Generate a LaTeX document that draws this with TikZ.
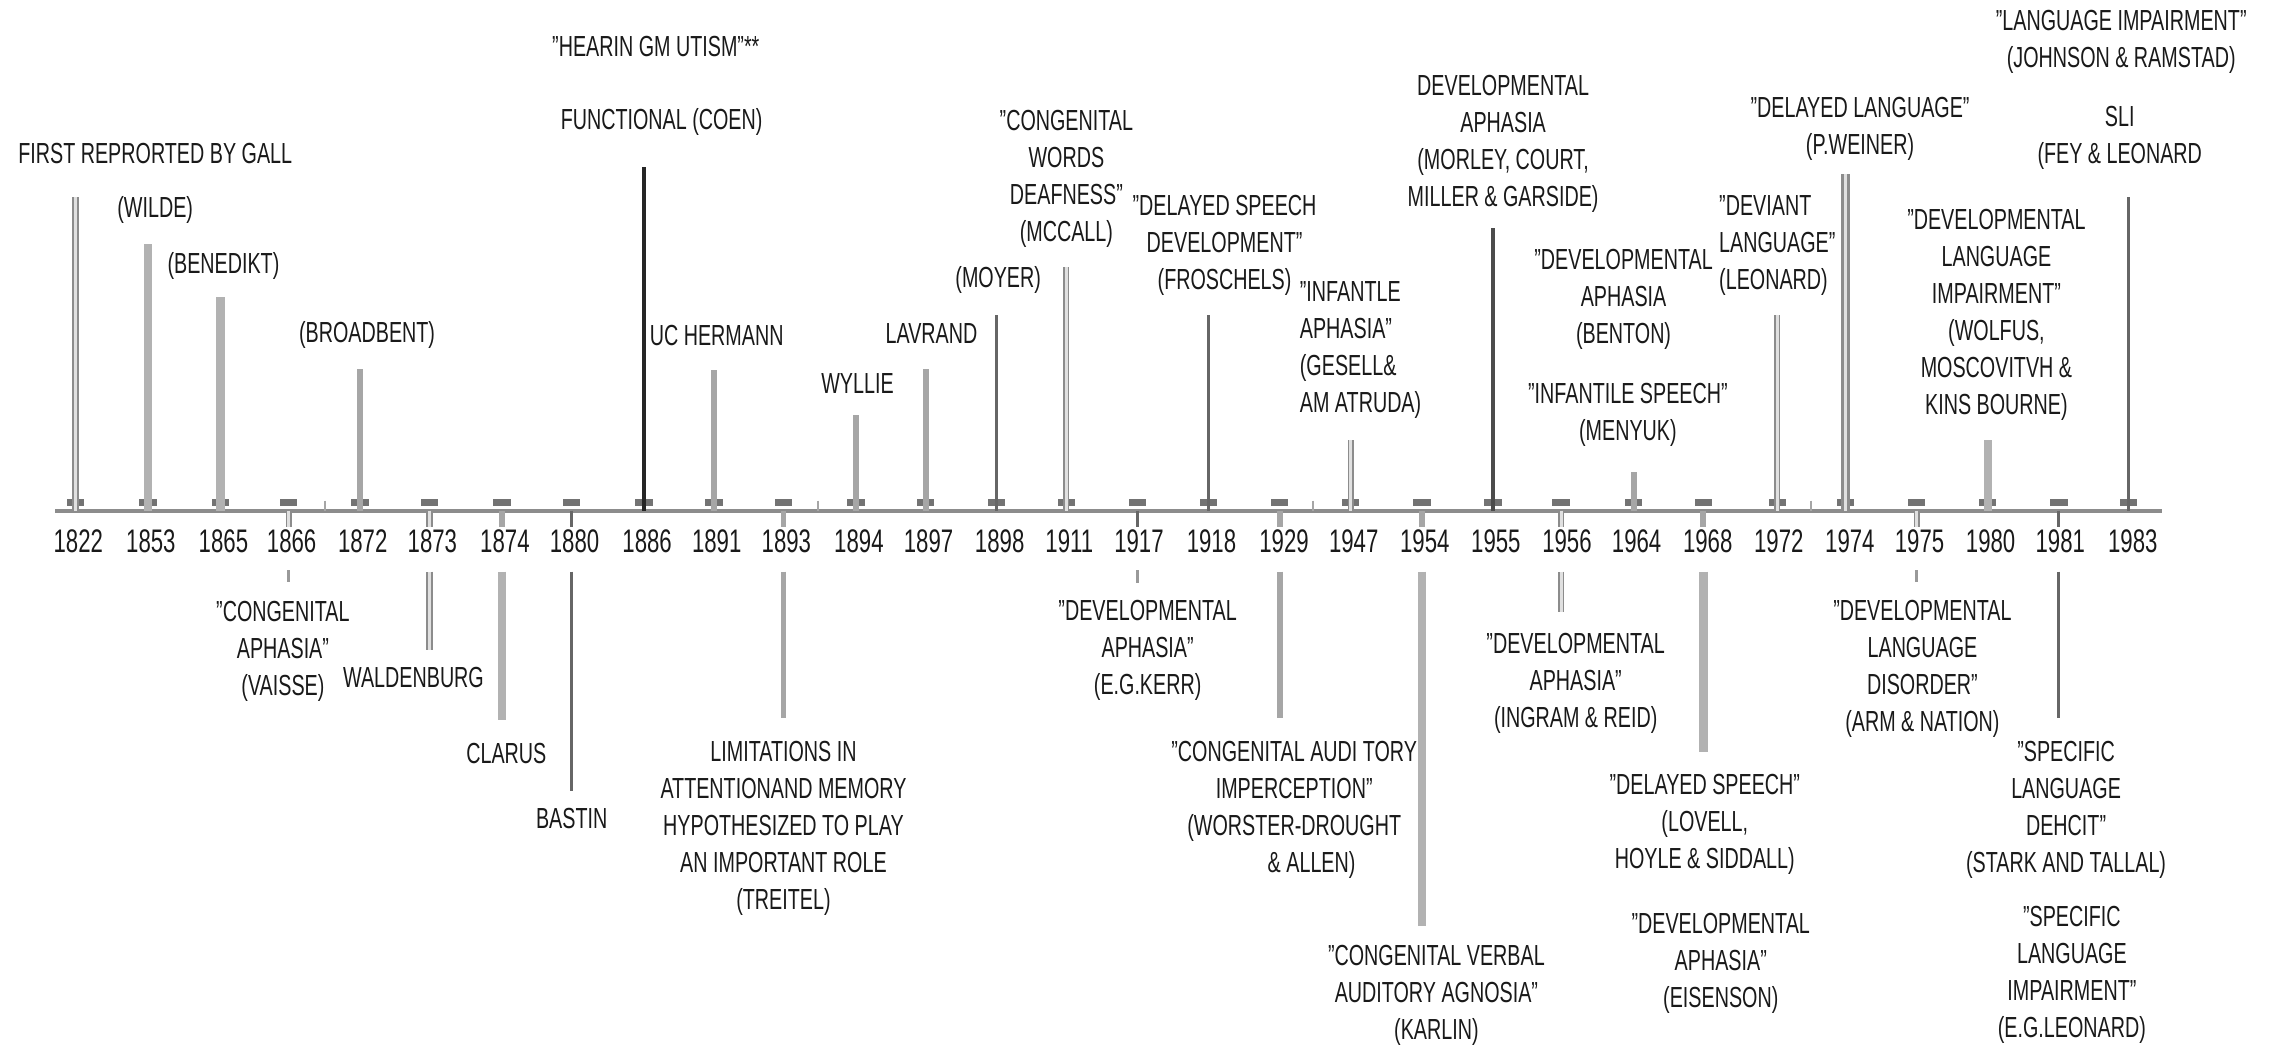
\documentclass[tikz,border=0pt]{standalone}
\usepackage{fontspec}
\setmainfont{Liberation Sans}[FakeStretch=0.68]
\tikzset{every picture/.style={line width=0.75pt}}
\tikzset{
  lbl/.style={font=\fontsize{8}{10.2}\selectfont, align=center, text=black!90, inner sep=0pt},
  yr/.style={font=\fontsize{9}{10}\selectfont, text=black!90, inner sep=0pt},
  stem/.style={draw=black!35, line width=1.6pt},
  widestem/.style={draw=black!30, line width=2.3pt},
  thinstem/.style={draw=black!60, line width=0.8pt},
  darkstem/.style={draw=black!85, line width=1pt},
  dblstem/.style={draw=black!45, double=black!12, double distance=0.8pt, line width=0.45pt},
  axisline/.style={draw=black!45, line width=1.1pt},
  tickbar/.style={fill=black!55},
}
\begin{document}
\begin{tikzpicture}[x=0.4pt,y=0.4pt,yscale=-1,xscale=1]
\useasboundingbox (0,0) rectangle (1568,722);

%Axis
\coordinate (axl) at (38,352);
\coordinate (axr) at (1490,352);
\draw [axisline] (axl) -- (axr);
\draw [black!35, line width=0.5pt] (224,345) -- (224,352);
\draw [black!35, line width=0.5pt] (564,345) -- (564,352);
\draw [black!35, line width=0.5pt] (905,345) -- (905,352);
\draw [black!35, line width=0.5pt] (1248,345) -- (1248,352);

%Points on the axis
\coordinate (a1822) at (52,352);
\coordinate (a1853) at (102,352);
\coordinate (a1865) at (152,352);
\coordinate (a1866) at (199,352);
\coordinate (a1872) at (248,352);
\coordinate (a1873) at (296,352);
\coordinate (a1874) at (346,352);
\coordinate (a1880) at (394,352);
\coordinate (a1886) at (444,352);
\coordinate (a1891) at (492,352);
\coordinate (a1893) at (540,352);
\coordinate (a1894) at (590,352);
\coordinate (a1897) at (638,352);
\coordinate (a1898) at (687,352);
\coordinate (a1911) at (735,352);
\coordinate (a1917) at (784,352);
\coordinate (a1918) at (833,352);
\coordinate (a1929) at (882,352);
\coordinate (a1947) at (931,352);
\coordinate (a1954) at (980,352);
\coordinate (a1955) at (1029,352);
\coordinate (a1956) at (1076,352);
\coordinate (a1964) at (1126,352);
\coordinate (a1968) at (1174,352);
\coordinate (a1972) at (1225,352);
\coordinate (a1974) at (1272,352);
\coordinate (a1975) at (1321,352);
\coordinate (a1980) at (1370,352);
\coordinate (a1981) at (1419,352);
\coordinate (a1983) at (1467,352);

%Tick marks
\fill [tickbar] (a1822) ++(-6,-8) rectangle ++(12,5);
\fill [tickbar] (a1853) ++(-6,-8) rectangle ++(12,5);
\fill [tickbar] (a1865) ++(-6,-8) rectangle ++(12,5);
\fill [tickbar] (a1866) ++(-6,-8) rectangle ++(12,5);
\fill [tickbar] (a1872) ++(-6,-8) rectangle ++(12,5);
\fill [tickbar] (a1873) ++(-6,-8) rectangle ++(12,5);
\fill [tickbar] (a1874) ++(-6,-8) rectangle ++(12,5);
\fill [tickbar] (a1880) ++(-6,-8) rectangle ++(12,5);
\fill [tickbar] (a1886) ++(-6,-8) rectangle ++(12,5);
\fill [tickbar] (a1891) ++(-6,-8) rectangle ++(12,5);
\fill [tickbar] (a1893) ++(-6,-8) rectangle ++(12,5);
\fill [tickbar] (a1894) ++(-6,-8) rectangle ++(12,5);
\fill [tickbar] (a1897) ++(-6,-8) rectangle ++(12,5);
\fill [tickbar] (a1898) ++(-6,-8) rectangle ++(12,5);
\fill [tickbar] (a1911) ++(-6,-8) rectangle ++(12,5);
\fill [tickbar] (a1917) ++(-6,-8) rectangle ++(12,5);
\fill [tickbar] (a1918) ++(-6,-8) rectangle ++(12,5);
\fill [tickbar] (a1929) ++(-6,-8) rectangle ++(12,5);
\fill [tickbar] (a1947) ++(-6,-8) rectangle ++(12,5);
\fill [tickbar] (a1954) ++(-6,-8) rectangle ++(12,5);
\fill [tickbar] (a1955) ++(-6,-8) rectangle ++(12,5);
\fill [tickbar] (a1956) ++(-6,-8) rectangle ++(12,5);
\fill [tickbar] (a1964) ++(-6,-8) rectangle ++(12,5);
\fill [tickbar] (a1968) ++(-6,-8) rectangle ++(12,5);
\fill [tickbar] (a1972) ++(-6,-8) rectangle ++(12,5);
\fill [tickbar] (a1974) ++(-6,-8) rectangle ++(12,5);
\fill [tickbar] (a1975) ++(-6,-8) rectangle ++(12,5);
\fill [tickbar] (a1980) ++(-6,-8) rectangle ++(12,5);
\fill [tickbar] (a1981) ++(-6,-8) rectangle ++(12,5);
\fill [tickbar] (a1983) ++(-6,-8) rectangle ++(12,5);

% Years
\draw (54,373) node (y1822) [yr] {1822};
\draw (104,373) node (y1853) [yr] {1853};
\draw (154,373) node (y1865) [yr] {1865};
\draw (201,373) node (y1866) [yr] {1866};
\draw (250,373) node (y1872) [yr] {1872};
\draw (298,373) node (y1873) [yr] {1873};
\draw (348,373) node (y1874) [yr] {1874};
\draw (396,373) node (y1880) [yr] {1880};
\draw (446,373) node (y1886) [yr] {1886};
\draw (494,373) node (y1891) [yr] {1891};
\draw (542,373) node (y1893) [yr] {1893};
\draw (592,373) node (y1894) [yr] {1894};
\draw (640,373) node (y1897) [yr] {1897};
\draw (689,373) node (y1898) [yr] {1898};
\draw (737,373) node (y1911) [yr] {1911};
\draw (785,373) node (y1917) [yr] {1917};
\draw (835,373) node (y1918) [yr] {1918};
\draw (885,373) node (y1929) [yr] {1929};
\draw (933,373) node (y1947) [yr] {1947};
\draw (982,373) node (y1954) [yr] {1954};
\draw (1031,373) node (y1955) [yr] {1955};
\draw (1080,373) node (y1956) [yr] {1956};
\draw (1128,373) node (y1964) [yr] {1964};
\draw (1177,373) node (y1968) [yr] {1968};
\draw (1226,373) node (y1972) [yr] {1972};
\draw (1275,373) node (y1974) [yr] {1974};
\draw (1323,373) node (y1975) [yr] {1975};
\draw (1372,373) node (y1980) [yr] {1980};
\draw (1420,373) node (y1981) [yr] {1981};
\draw (1470,373) node (y1983) [yr] {1983};

%Straight Lines above the axis
\coordinate (e1822) at (52,136);
\coordinate (e1853) at (102,168);
\coordinate (e1865) at (152,205);
\coordinate (e1872) at (248,254);
\coordinate (e1886) at (444,115);
\coordinate (e1891) at (492,255);
\coordinate (e1894) at (590,286);
\coordinate (e1897) at (638,254);
\coordinate (e1898) at (687,217);
\coordinate (e1911) at (735,184);
\coordinate (e1918) at (833,217);
\coordinate (e1947) at (931,303);
\coordinate (e1955) at (1029,157);
\coordinate (e1964) at (1126,325);
\coordinate (e1972) at (1225,217);
\coordinate (e1974) at (1272,120);
\coordinate (e1980) at (1370,303);
\coordinate (e1983) at (1467,136);
\draw [dblstem] (a1822) -- (e1822);
\draw [widestem] (a1853) -- (e1853);
\draw [widestem] (a1865) -- (e1865);
\draw [stem] (a1872) -- (e1872);
\draw [darkstem] (a1886) -- (e1886);
\draw [stem] (a1891) -- (e1891);
\draw [stem] (a1894) -- (e1894);
\draw [stem] (a1897) -- (e1897);
\draw [thinstem] (a1898) -- (e1898);
\draw [dblstem] (a1911) -- (e1911);
\draw [thinstem] (a1918) -- (e1918);
\draw [dblstem] (a1947) -- (e1947);
\draw [darkstem, black!70] (a1955) -- (e1955);
\draw [stem] (a1964) -- (e1964);
\draw [dblstem] (a1972) -- (e1972);
\draw [dblstem, line width=0.9pt, double distance=0.6pt] (a1974) -- (e1974);
\draw [widestem] (a1980) -- (e1980);
\draw [thinstem] (a1983) -- (e1983);

%Straight Lines below the axis
\draw [dblstem] (a1866) -- ++(0,11);
\draw [dblstem] (a1873) -- ++(0,11);
\draw [stem] (a1874) -- ++(0,11);
\draw [thinstem] (a1880) -- ++(0,11);
\draw [stem] (a1893) -- ++(0,11);
\draw [thinstem] (a1917) -- ++(0,11);
\draw [stem] (a1929) -- ++(0,11);
\draw [stem] (a1954) -- ++(0,11);
\draw [dblstem] (a1956) -- ++(0,11);
\draw [stem] (a1968) -- ++(0,11);
\draw [dblstem] (a1975) -- ++(0,11);
\draw [thinstem] (a1981) -- ++(0,11);
\coordinate (b1866) at (199,393);
\coordinate (f1866) at (199,401);
\coordinate (b1873) at (296,394);
\coordinate (f1873) at (296,448);
\coordinate (b1874) at (346,394);
\coordinate (f1874) at (346,496);
\coordinate (b1880) at (394,394);
\coordinate (f1880) at (394,545);
\coordinate (b1893) at (540,394);
\coordinate (f1893) at (540,495);
\coordinate (b1917) at (784,393);
\coordinate (f1917) at (784,402);
\coordinate (b1929) at (882,394);
\coordinate (f1929) at (882,495);
\coordinate (b1954) at (980,394);
\coordinate (f1954) at (980,638);
\coordinate (b1956) at (1076,394);
\coordinate (f1956) at (1076,422);
\coordinate (b1968) at (1174,394);
\coordinate (f1968) at (1174,518);
\coordinate (b1975) at (1321,393);
\coordinate (f1975) at (1321,401);
\coordinate (b1981) at (1419,394);
\coordinate (f1981) at (1419,495);
\draw [thinstem, black!40] (b1866) -- (f1866);
\draw [dblstem] (b1873) -- (f1873);
\draw [widestem] (b1874) -- (f1874);
\draw [thinstem] (b1880) -- (f1880);
\draw [stem] (b1893) -- (f1893);
\draw [thinstem, black!40] (b1917) -- (f1917);
\draw [stem] (b1929) -- (f1929);
\draw [widestem] (b1954) -- (f1954);
\draw [dblstem] (b1956) -- (f1956);
\draw [widestem] (b1968) -- (f1968);
\draw [thinstem, black!40] (b1975) -- (f1975);
\draw [thinstem] (b1981) -- (f1981);

% Text Node
\draw (107,106) node (gall) [lbl] {FIRST REPRORTED BY GALL};
% Text Node
\draw (107,145) node (wilde) [lbl] {(WILDE)};
% Text Node
\draw (154,183) node (benedikt) [lbl] {(BENEDIKT)};
% Text Node
\draw (253,231) node (broadbent) [lbl] {(BROADBENT)};
% Text Node
\draw (452,32) node (hearing) [lbl] {"HEARIN GM UTISM"**};
% Text Node
\draw (456,84) node (coen) [lbl] {FUNCTIONAL (COEN)};
% Text Node
\draw (494,231) node (uchermann) [lbl] {UC HERMANN};
% Text Node
\draw (591,264) node (wyllie) [lbl] {WYLLIE};
% Text Node
\draw (642,230) node (lavrand) [lbl] {LAVRAND};
% Text Node
\draw (688,193) node (moyer) [lbl] {(MOYER)};
% Text Node
\draw (735,123) node (mccall) [lbl] {"CONGENITAL\\WORDS\\DEAFNESS"\\(MCCALL)};
% Text Node
\draw (844,169) node (froschels) [lbl] {"DELAYED SPEECH\\DEVELOPMENT"\\(FROSCHELS)};
% Text Node
\draw (895,241) node (gesell) [lbl, anchor=west, align=left] {"INFANTLE\\APHASIA"\\(GESELL\&\\AM ATRUDA)};
% Text Node
\draw (1036,99) node (morley) [lbl] {DEVELOPMENTAL\\APHASIA\\(MORLEY, COURT,\\MILLER \& GARSIDE)};
% Text Node
\draw (1119,206) node (benton) [lbl] {"DEVELOPMENTAL\\APHASIA\\(BENTON)};
% Text Node
\draw (1122,286) node (menyuk) [lbl] {"INFANTILE SPEECH"\\(MENYUK)};
% Text Node
\draw (1184,169) node (deviant) [lbl, anchor=west, align=left] {"DEVIANT\\LANGUAGE"\\(LEONARD)};
% Text Node
\draw (1282,89) node (weiner) [lbl] {"DELAYED LANGUAGE"\\(P.WEINER)};
% Text Node
\draw (1376,217) node (wolfus) [lbl] {"DEVELOPMENTAL\\LANGUAGE\\IMPAIRMENT"\\(WOLFUS,\\MOSCOVITVH \&\\KINS BOURNE)};
% Text Node
\draw (1461,95) node (sli) [lbl] {SLI\\(FEY \& LEONARD};
% Text Node
\draw (1462,29) node (johnson) [lbl] {"LANGUAGE IMPAIRMENT"\\(JOHNSON \& RAMSTAD)};

% Text Node
\draw (195,449) node (vaisse) [lbl] {"CONGENITAL\\APHASIA"\\(VAISSE)};
% Text Node
\draw (285,467) node (waldenburg) [lbl] {WALDENBURG};
% Text Node
\draw (349,519) node (clarus) [lbl] {CLARUS};
% Text Node
\draw (394,564) node (bastin) [lbl] {BASTIN};
% Text Node
\draw (540,571) node (treitel) [lbl] {LIMITATIONS IN\\ATTENTIONAND MEMORY\\HYPOTHESIZED TO PLAY\\AN IMPORTANT ROLE\\(TREITEL)};
% Text Node
\draw (791,448) node (kerr) [lbl] {"DEVELOPMENTAL\\APHASIA"\\(E.G.KERR)};
% Text Node
\draw (892,558) node (worster) [lbl] {"CONGENITAL AUDI TORY\\IMPERCEPTION"\\(WORSTER-DROUGHT\\\hspace*{1.2em}\& ALLEN)};
% Text Node
\draw (990,686) node (karlin) [lbl] {"CONGENITAL VERBAL\\AUDITORY AGNOSIA"\\(KARLIN)};
% Text Node
\draw (1086,471) node (ingram) [lbl] {"DEVELOPMENTAL\\APHASIA"\\(INGRAM \& REID)};
% Text Node
\draw (1175,568) node (lovell) [lbl] {"DELAYED SPEECH"\\(LOVELL,\\HOYLE \& SIDDALL)};
% Text Node
\draw (1186,664) node (eisenson) [lbl] {"DEVELOPMENTAL\\APHASIA"\\(EISENSON)};
% Text Node
\draw (1325,461) node (arm) [lbl] {"DEVELOPMENTAL\\LANGUAGE\\DISORDER"\\(ARM \& NATION)};
% Text Node
\draw (1424,558) node (stark) [lbl] {"SPECIFIC\\LANGUAGE\\DEHCIT"\\(STARK AND TALLAL)};
% Text Node
\draw (1428,672) node (egleonard) [lbl] {"SPECIFIC\\LANGUAGE\\IMPAIRMENT"\\(E.G.LEONARD)};

\end{tikzpicture}
\end{document}
